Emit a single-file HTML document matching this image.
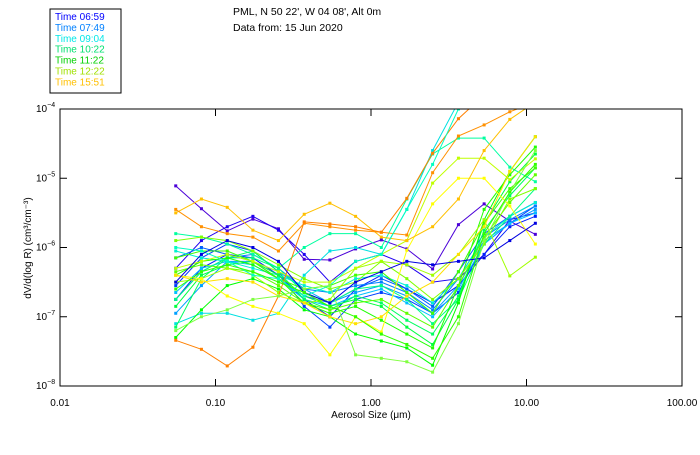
<!DOCTYPE html>
<html><head><meta charset="utf-8"><style>
body{margin:0;background:#fff;width:700px;height:450px;overflow:hidden}
svg text{font-family:"Liberation Sans",sans-serif}
</style></head><body>
<svg id="chart" width="700" height="450" xmlns="http://www.w3.org/2000/svg">
<defs><clipPath id="plotclip"><rect x="60" y="109" width="622" height="277"/></clipPath></defs>
<rect x="50" y="9" width="71" height="84" fill="#fff" stroke="#000"/>
<g id="legend"></g>
<text x="233" y="15" font-size="10.5">PML, N 50 22', W 04 08', Alt 0m</text>
<text x="233" y="31" font-size="10.5">Data from: 15 Jun 2020</text>
<g id="series" clip-path="url(#plotclip)"></g>
<rect x="60" y="109" width="622" height="277" fill="none" stroke="#000"/>
<g id="axes"></g>
<text x="371" y="418" font-size="10" text-anchor="middle">Aerosol Size (μm)</text>
<text transform="translate(31,248) rotate(-90)" font-size="10" text-anchor="middle">dV/d(log R) (cm³/cm⁻³)</text>
</svg>
<script>
const legendLabels=["Time 06:59","Time 07:49","Time 09:04","Time 10:22","Time 11:22","Time 12:22","Time 15:51"];
const legendColors=["#0000ff","#0080ff","#00e8e8","#00e070","#00d000","#a0e000","#ffc000"];
const sizes=[0.0555,0.0812,0.119,0.174,0.254,0.372,0.544,0.796,1.165,1.70,2.49,3.65,5.34,7.81,11.4];
const xTicks=[0.01,0.1,1,10,100];
const xTickLabels=["0.01","0.10","1.00","10.00","100.00"];
const yTickExp=[-8,-7,-6,-5,-4];
const seriesColors=["#4b00d8","#2000f0","#0020ff","#0040ff","#0060ff","#0080ff","#00a0ff","#00c0ff","#00e0e0","#00f0d0","#00ffa0","#00ff80","#00ff60","#00ff40","#00ff00","#20ff00","#40ff00","#60ff00","#80ff00","#a0ff00","#c0ff00","#ffff00","#ffe000","#ffc000","#ff9000","#ff8000","#00ffc0","#80ff40","#0000e0","#30ff00"];
// log10 of dV/dlogR
const s01=[-5.11,-5.44,-5.76,-5.59,-5.73,-6.17,-6.18,-6.02,-5.89,-6.02,-6.31,-5.67,-5.37,-5.62,-5.81];
const s02=[-6.3,-5.9,-5.7,-5.55,-5.75,-6.1,-6.5,-6.2,-6.1,-6.25,-6.5,-6.45,-6.1,-5.6,-5.5];
const s03=[-6.75,-6.3,-6.1,-6.15,-6.4,-6.75,-7.0,-6.6,-6.4,-6.6,-6.8,-6.55,-6.1,-5.7,-5.55];
const s04=[-6.55,-6.15,-5.95,-6.05,-6.35,-6.85,-7.15,-6.75,-6.65,-6.75,-6.95,-6.65,-5.95,-5.65,-5.4];
const s05=[-6.15,-6.0,-6.1,-6.2,-6.45,-6.7,-6.8,-6.6,-6.45,-6.6,-6.85,-6.35,-5.8,-5.55,-5.35];
const s06=[-6.75,-6.35,-6.15,-6.1,-6.3,-6.6,-6.65,-6.55,-6.5,-6.65,-6.9,-6.45,-5.85,-5.6,-5.4];
const s07=[-6.95,-6.55,-6.2,-6.2,-6.35,-6.6,-6.8,-6.65,-6.55,-6.7,-6.95,-6.55,-5.9,-5.65,-5.45];
const s08=[-6.65,-6.3,-6.2,-6.25,-6.45,-6.75,-6.85,-6.7,-6.6,-6.8,-7.0,-6.6,-5.95,-5.65,-5.5];
const s09=[-7.1,-6.95,-6.95,-7.05,-6.95,-6.4,-6.05,-6.0,-6.1,-5.45,-4.6,-3.9,-3.8,-3.8,-3.8];
const s10=[-6.05,-6.15,-6.2,-6.3,-6.4,-6.55,-6.65,-6.45,-6.4,-6.55,-6.8,-6.45,-5.85,-5.55,-5.35];
const s11=[-5.8,-5.85,-5.95,-6.1,-6.3,-6.0,-5.8,-5.8,-6.0,-5.3,-4.65,-4.42,-4.42,-4.84,-5.05];
const s12=[-6.75,-6.35,-6.15,-6.15,-6.3,-6.65,-6.8,-6.6,-6.55,-6.75,-7.1,-6.75,-5.95,-5.55,-5.15];
const s13=[-7.15,-6.45,-6.15,-6.05,-6.35,-6.75,-6.9,-6.7,-6.8,-7.05,-7.25,-6.7,-5.75,-5.25,-4.85];
const s14=[-6.85,-6.4,-6.25,-6.2,-6.4,-6.7,-6.85,-6.75,-6.85,-7.15,-7.4,-6.75,-5.65,-5.05,-4.65];
const s15=[-7.3,-6.9,-6.55,-6.45,-6.6,-6.9,-7.0,-7.25,-7.35,-7.45,-7.7,-6.8,-5.6,-4.9,-4.4];
const s16=[-6.4,-6.2,-6.15,-6.25,-6.45,-6.8,-6.95,-6.85,-7.05,-7.25,-7.45,-6.55,-5.45,-4.95,-4.55];
const s17=[-6.15,-6.05,-6.05,-6.2,-6.45,-6.6,-6.55,-6.4,-6.35,-6.65,-6.95,-6.35,-5.65,-5.15,-4.85];
const s18=[-6.35,-6.25,-6.3,-6.35,-6.55,-6.8,-6.9,-6.8,-6.75,-6.95,-7.15,-6.55,-5.85,-5.35,-4.95];
const s19=[-5.9,-5.85,-5.9,-6.05,-6.25,-6.45,-6.6,-6.5,-6.2,-6.45,-6.75,-6.45,-5.95,-5.3,-5.15];
const s20=[-6.5,-6.45,-6.3,-6.4,-6.65,-6.8,-6.75,-6.3,-6.2,-6.25,-6.4,-6.1,-5.6,-6.41,-6.14];
const s21=[-6.3,-6.2,-6.1,-6.2,-6.35,-6.5,-6.5,-6.3,-6.1,-5.9,-5.07,-4.71,-4.71,-5.02,-4.72];
const s22=[-6.4,-6.45,-6.7,-6.85,-6.95,-7.1,-7.55,-7.0,-7.22,-6.04,-5.37,-5.0,-5.0,-5.4,-5.95];
const s23=[-6.4,-6.5,-6.45,-6.5,-6.7,-6.8,-7.0,-7.1,-7.0,-6.7,-6.5,-6.1,-5.7,-4.9,-4.4];
const s24=[-5.5,-5.3,-5.42,-5.75,-5.9,-5.52,-5.36,-5.55,-5.85,-5.9,-5.7,-5.3,-4.6,-4.15,-3.9];
const s25=[-5.45,-5.7,-5.8,-5.85,-6.05,-5.65,-5.7,-5.75,-5.78,-5.82,-4.92,-4.39,-4.23,-4.04,-3.9];
const s26=[-7.34,-7.47,-7.71,-7.44,-6.7,-5.63,-5.66,-5.7,-5.78,-5.29,-4.64,-4.14,-3.8,-3.8,-3.8];
const s27=[-6.0,-6.05,-6.2,-6.4,-6.45,-6.7,-6.55,-6.2,-6.1,-5.45,-4.8,-4.0,-3.8,-3.8,-3.8];
const s28=[-7.2,-7.0,-6.9,-6.75,-6.7,-6.6,-6.55,-7.55,-7.6,-7.65,-7.8,-7.1,-5.9,-5.2,-4.6];
const s29=[-6.5,-6.1,-5.9,-6.0,-6.2,-6.65,-6.8,-6.5,-6.35,-6.2,-6.25,-6.2,-6.15,-5.9,-5.65];
const s30=[-6.6,-6.35,-6.25,-6.35,-6.5,-6.65,-6.85,-7.0,-7.25,-7.4,-7.6,-7.0,-5.8,-5.2,-4.8];
const allSeries=[s01,s02,s03,s04,s05,s06,s07,s08,s09,s10,s11,s12,s13,s14,s15,s16,s17,s18,s19,s20,s21,s22,s23,s24,s25,s26,s27,s28,s29,s30];

const NS="http://www.w3.org/2000/svg";
const X0=60,X1=682,Y0=386,Y1=109;
function xs(v){return X0+(Math.log10(v)+2)/4*(X1-X0);}
function ys(l){return Y0-(l+8)/4*(Y0-Y1);}
function mk(t,a,p){const e=document.createElementNS(NS,t);for(const k in a)e.setAttribute(k,a[k]);p.appendChild(e);return e;}

const lg=document.getElementById('legend');
legendLabels.forEach((t,i)=>{
  const e=mk('text',{x:55,y:20+i*10.9,'font-size':'10',fill:legendColors[i]},lg);
  e.textContent=t;
  
  
});

const sg=document.getElementById('series');
allSeries.forEach((s,si)=>{
  const c=seriesColors[si];
  const g=mk('g',{},sg);
  
  
  const pts=s.map((v,i)=>xs(sizes[i]).toFixed(1)+','+ys(v).toFixed(1)).join(' ');
  mk('polyline',{points:pts,fill:'none',stroke:c,'stroke-width':'1'},g);
  s.forEach((v,i)=>{
    const r=mk('rect',{x:xs(sizes[i])-1.5,y:ys(v)-1.5,width:3,height:3,fill:c},g);
    
    
  });
});

const ax=document.getElementById('axes');
xTicks.forEach((v,i)=>{
  const x=xs(v);
  mk('line',{x1:x,y1:Y0,x2:x,y2:Y0-7,stroke:'#000'},ax);
  mk('line',{x1:x,y1:Y1,x2:x,y2:Y1+7,stroke:'#000'},ax);
  const t=mk('text',{x:x,y:Y0+20,'font-size':'10','text-anchor':'middle'},ax);
  t.textContent=xTickLabels[i];
  
  
});
yTickExp.forEach(e=>{
  const y=ys(e);
  mk('line',{x1:X0,y1:y,x2:X0+7,y2:y,stroke:'#000'},ax);
  mk('line',{x1:X1,y1:y,x2:X1-7,y2:y,stroke:'#000'},ax);
  const t=mk('text',{x:36,y:y+3,'font-size':'10'},ax);
  t.textContent='10';
  const sp=mk('tspan',{dy:-5,'font-size':'7'},t);
  sp.textContent='\u2212'+(-e);
  
  
});
</script>
</body></html>
